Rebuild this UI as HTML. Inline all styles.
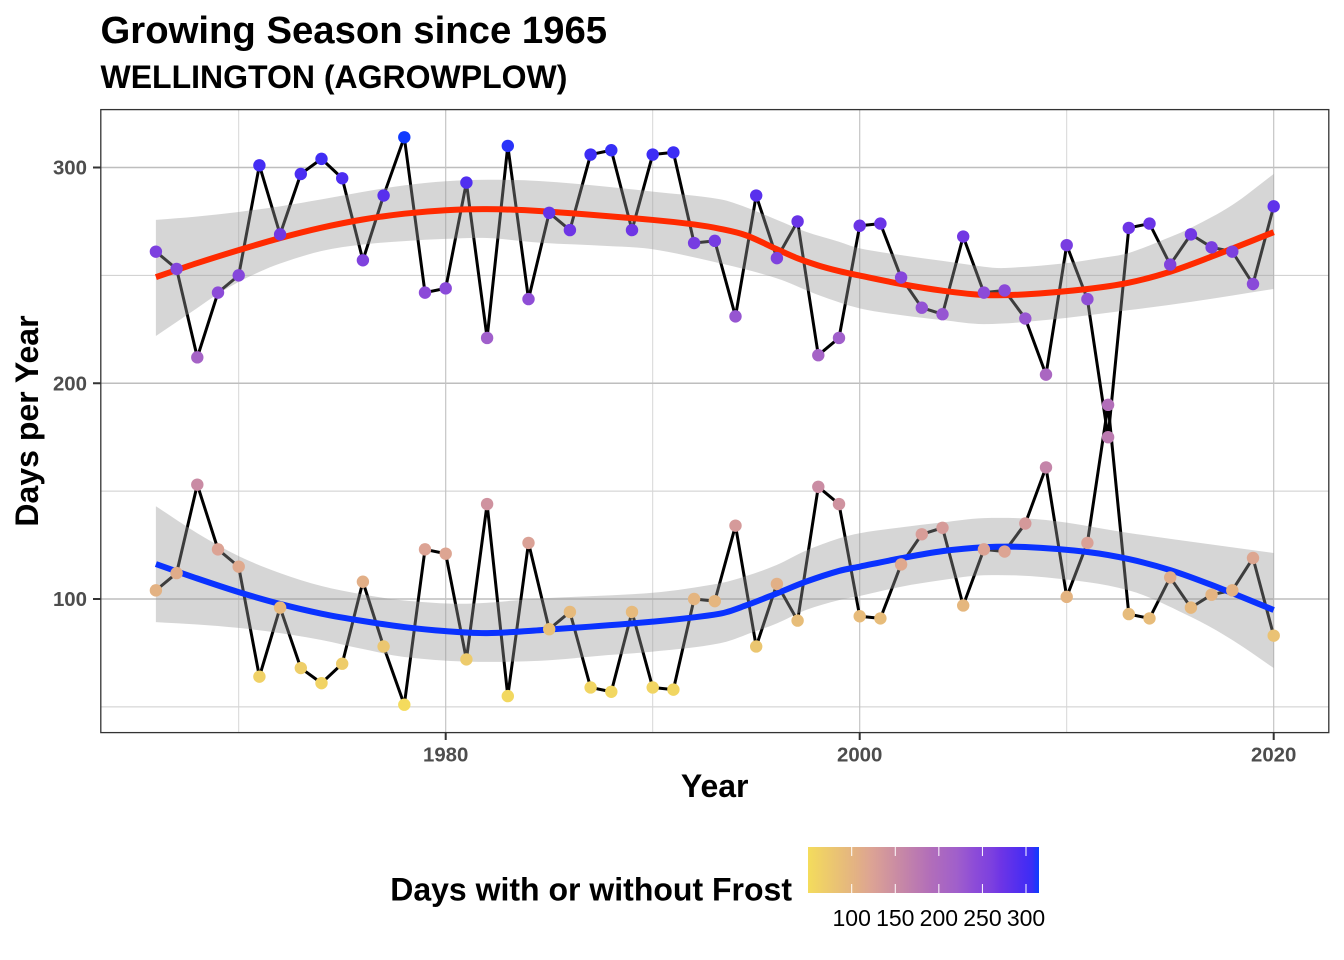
<!DOCTYPE html>
<html lang="en">
<head>
<meta charset="utf-8">
<title>Growing Season since 1965</title>
<style>
html,body{margin:0;padding:0;background:#fff;width:1344px;height:960px;overflow:hidden}
svg{display:block;font-family:"Liberation Sans",Arial,sans-serif}
</style>
</head>
<body>
<svg id="chart" width="1344" height="960" viewBox="0 0 1344 960" xmlns="http://www.w3.org/2000/svg">
  <rect x="0" y="0" width="1344" height="960" fill="#fff"/>
  <text x="100.5" y="43" font-size="38.3" font-weight="700" fill="#000">Growing Season since 1965</text>
  <text x="100.5" y="88" font-size="32" font-weight="700" fill="#000">WELLINGTON (AGROWPLOW)</text>
  <g id="grid"></g>
  <g id="marks"></g>
  <rect x="100.8" y="109.6" width="1228" height="623" fill="none" stroke="#333" stroke-width="1.3"/>
  <g id="axes"></g>
  <text x="714.7" y="797" font-size="32" font-weight="700" text-anchor="middle" fill="#000">Year</text>
  <text transform="translate(38 421) rotate(-90)" font-size="32" font-weight="700" text-anchor="middle" fill="#000">Days per Year</text>
  <text x="792" y="900.7" font-size="32" font-weight="700" text-anchor="end" fill="#000">Days with or without Frost</text>
  <defs><linearGradient id="legendGradient" x1="0" y1="0" x2="1" y2="0"></linearGradient></defs>
  <rect x="808" y="847" width="231" height="46" fill="url(#legendGradient)"/>
  <g id="legend"></g>
</svg>
<script>
// ---- Data ----
const years = [1966,1967,1968,1969,1970,1971,1972,1973,1974,1975,1976,1977,1978,1979,1980,1981,1982,1983,1984,1985,1986,1987,1988,1989,1990,1991,1992,1993,1994,1995,1996,1997,1998,1999,2000,2001,2002,2003,2004,2005,2006,2007,2008,2009,2010,2011,2012,2013,2014,2015,2016,2017,2018,2019,2020];
const daysWithoutFrost = [261,253,212,242,250,301,269,297,304,295,257,287,314,242,244,293,221,310,239,279,271,306,308,271,306,307,265,266,231,287,258,275,213,221,273,274,249,235,232,268,242,243,230,204,264,239,175,272,274,255,269,263,261,246,282];
const daysWithFrost = [104,112,153,123,115,64,96,68,61,70,108,78,51,123,121,72,144,55,126,86,94,59,57,94,59,58,100,99,134,78,107,90,152,144,92,91,116,130,133,97,123,122,135,161,101,126,190,93,91,110,96,102,104,119,83];

const redTrendYears = [1966,1968,1970,1972,1974,1976,1978,1980,1982,1984.6,1990,1992,1993.25,1994.5,1996,1997,1998,1999,2000,2002,2004,2006,2008,2011,2013,2015,2017,2020];
const redTrendValues = [249.2,255.7,261.7,267.3,272.1,275.9,278.6,280.2,280.7,279.8,275.7,273.6,271.6,268.6,262.1,257.9,254.6,252,249.9,246,242.9,240.9,241.2,243.7,246.6,251.7,258.7,270];
const redUpperYears = [1966,1968,1970,1972,1974,1976,1978,1980,1982,1984.6,1987.8,1990,1993.25,1994.5,1996,1997.4,1999,2000,2002,2004,2006,2007,2010,2011.5,2013,2015,2016,2018,2020];
const redUpperValues = [275.7,277.3,279.4,282,285.2,288.7,291.7,293.6,294.3,293.7,291.1,288.8,285.3,281.6,275.7,270.2,265.6,262.5,259.4,256.7,254,253.4,255.7,257.8,260.4,267.8,272,282.6,297];
const redLowerYears = [1966,1967,1968,1969,1970,1971,1972,1974,1976,1978,1980,1982,1984.6,1987.8,1990,1993.25,1996,1998,2000,2002,2004,2006,2009,2013,2016,2020];
const redLowerValues = [221.9,228.4,234.9,241.4,247,251.6,255.5,261.3,264.3,265.9,266.9,267.3,265.1,263.6,262.1,255.6,248.6,240.9,234.7,231.6,229.3,227.4,229.3,233.9,237.7,243.7];

const blueTrendYears = [1966,1968,1970,1972,1974,1976,1978,1980,1982,1984.6,1990,1993.25,1994.5,1996,1997.4,1999,2000,2002,2004,2006,2008,2011,2013,2015,2017,2020];
const blueTrendValues = [116.2,109.5,103.2,97.7,93.2,89.8,87,85.1,84.2,85.6,89.5,93.2,97,102.6,108,113,115,118.9,122.2,124,124.1,121.8,118.5,113.4,106.5,94.9];
const blueUpperYears = [1966,1968,1970,1972,1974,1976,1978,1981,1984.6,1990,1993.25,1994.5,1996,1997.4,1999,2000,2002,2004,2006,2009,2013,2020];
const blueUpperValues = [143,130.5,119.9,112,106,102.1,99.3,97.8,100.3,102.9,107.3,110.6,115.8,122.4,128.1,130.5,133.2,135.5,137.5,136.6,130.6,121.3];
const blueLowerYears = [1966,1968,1970,1972,1974,1976,1978,1981,1984.6,1987.8,1990,1993.25,1994.9,1996,1997.4,1999,2000,2002,2004,2006,2009,2013,2016,2018,2020];
const blueLowerValues = [89.3,88.2,86.6,84.2,81,76.8,73.1,71,71.4,74,75.6,79.5,84.8,88.7,94.9,99.5,101.4,105.7,108.8,111,110,104,91.7,81,68];

const xTickLabels = [1980,2000,2020];
const xMinorTicks = [1970,1990,2010];
const yTickLabels = [100,200,300];
const yMinorTicks = [50,150,250];
const legendTickLabels = [100,150,200,250,300];
const colorStopValues = [50,104,123,153,190,221,242,261,271,297,307,315];
const colorStopColors = ['#F4DC5C','#E3B283','#DCA394','#C98BA4','#B26EB9','#A05FCB','#8C4BD8','#7C40DF','#6E35E5','#4A2DF2','#3C2DF5','#0A3CFF'];

// ---- Scales ----
const NS = 'http://www.w3.org/2000/svg';
function xScale(year){ return 445.7 + (year - 1980) * 20.7; }
function yScale(value){ return 599 + (100 - value) * 2.1575; }
function legendScale(value){ return 851.7 + (value - 100) * 0.8715; }
function hexToRgb(h){ return [1,3,5].map(function(i){ return parseInt(h.substr(i,2),16); }); }
function colorFor(value){
  let i = 0;
  while(i < colorStopValues.length - 2 && value > colorStopValues[i+1]) i++;
  const t = Math.max(0, Math.min(1, (value - colorStopValues[i]) / (colorStopValues[i+1] - colorStopValues[i])));
  const a = hexToRgb(colorStopColors[i]), b = hexToRgb(colorStopColors[i+1]);
  return 'rgb(' + a.map(function(c,k){ return Math.round(c + (b[k]-c)*t); }).join(',') + ')';
}
function make(tag, attrs, parent){
  const el = document.createElementNS(NS, tag);
  Object.keys(attrs).forEach(function(k){ el.setAttribute(k, attrs[k]); });
  parent.appendChild(el);
  return el;
}
// Smooth Hermite path through read points
function curve(xs, vs, reverse, start){
  let pts = xs.map(function(x,i){ return [xScale(x), yScale(vs[i])]; });
  if(reverse) pts = pts.slice().reverse();
  const n = pts.length;
  const m = pts.map(function(p,i){
    const a = pts[Math.max(0,i-1)], b = pts[Math.min(n-1,i+1)];
    return (b[1]-a[1])/(b[0]-a[0]);
  });
  let d = (start ? 'M' : 'L') + pts[0][0].toFixed(2) + ' ' + pts[0][1].toFixed(2);
  for(let i=0;i<n-1;i++){
    const h = (pts[i+1][0]-pts[i][0])/3;
    d += ' C' + (pts[i][0]+h).toFixed(2) + ' ' + (pts[i][1]+m[i]*h).toFixed(2) + ' ' +
         (pts[i+1][0]-h).toFixed(2) + ' ' + (pts[i+1][1]-m[i+1]*h).toFixed(2) + ' ' +
         pts[i+1][0].toFixed(2) + ' ' + pts[i+1][1].toFixed(2);
  }
  return d;
}

// ---- Grid ----
const grid = document.getElementById('grid');
yMinorTicks.forEach(function(v){
  const l = make('line',{x1:101,x2:1329,y1:yScale(v),y2:yScale(v),stroke:'#cdcdcd','stroke-width':1.1},grid);
  
  
});
xMinorTicks.forEach(function(v){
  const l = make('line',{x1:xScale(v),x2:xScale(v),y1:110,y2:733,stroke:'#d6d6d6','stroke-width':1},grid);
  
  
});
yTickLabels.forEach(function(v){
  const l = make('line',{x1:101,x2:1329,y1:yScale(v),y2:yScale(v),stroke:'#bebebe','stroke-width':1.4},grid);
  
  
});
xTickLabels.forEach(function(v){
  const l = make('line',{x1:xScale(v),x2:xScale(v),y1:110,y2:733,stroke:'#c4c4c4','stroke-width':1.2},grid);
  
  
});

// ---- Marks ----
const marks = document.getElementById('marks');
function drawLine(values, name){
  const d = years.map(function(y,i){ return (i?'L':'M') + xScale(y).toFixed(2) + ' ' + yScale(values[i]).toFixed(2); }).join(' ');
  const p = make('path',{d:d,fill:'none',stroke:'#000','stroke-width':3,'stroke-linejoin':'miter'},marks);
  
  
}
function drawBand(upY, upV, loY, loV, name){
  const d = curve(upY, upV, false, true) + ' ' + curve(loY, loV, true, false) + ' Z';
  const p = make('path',{d:d,fill:'#999','fill-opacity':0.4},marks);
  
  
}
function drawTrend(ty, tv, color, name){
  const p = make('path',{d:curve(ty, tv, false, true),fill:'none',stroke:color,'stroke-width':6},marks);
  
  
}
function drawPoints(values, name){
  years.forEach(function(y,i){
    const c = make('circle',{cx:xScale(y),cy:yScale(values[i]),r:6.2,fill:colorFor(values[i])},marks);
    
    
  });
}
drawLine(daysWithoutFrost, 'frost-free-days-line');
drawLine(daysWithFrost, 'frost-days-line');
drawBand(redUpperYears, redUpperValues, redLowerYears, redLowerValues, 'frost-free-confidence-band');
drawBand(blueUpperYears, blueUpperValues, blueLowerYears, blueLowerValues, 'frost-confidence-band');
drawTrend(redTrendYears, redTrendValues, '#FF2A00', 'frost-free-trend-line');
drawTrend(blueTrendYears, blueTrendValues, '#0A32FF', 'frost-trend-line');
drawPoints(daysWithoutFrost, 'frost-free-days-point');
drawPoints(daysWithFrost, 'frost-days-point');

// ---- Axes ----
const axes = document.getElementById('axes');
xTickLabels.forEach(function(v){
  const t = make('line',{x1:xScale(v),x2:xScale(v),y1:733,y2:740,stroke:'#333','stroke-width':2},axes);
  
  
  const l = make('text',{x:xScale(v),y:761.5,'text-anchor':'middle','font-size':20.4,'font-weight':700,fill:'#4d4d4d'},axes);
  l.textContent = String(v);
  
  
});
yTickLabels.forEach(function(v){
  const t = make('line',{x1:93,x2:101,y1:yScale(v),y2:yScale(v),stroke:'#333','stroke-width':2},axes);
  
  
  const l = make('text',{x:87,y:yScale(v)+7.2,'text-anchor':'end','font-size':20.4,'font-weight':700,fill:'#4d4d4d'},axes);
  l.textContent = String(v);
  
  
});

// ---- Legend ----
const grad = document.getElementById('legendGradient');
colorStopValues.forEach(function(v,i){
  const s = make('stop',{offset:((v-50)/(315-50)).toFixed(4),'stop-color':colorStopColors[i]},grad);
  
  
});
const legend = document.getElementById('legend');
legendTickLabels.forEach(function(v){
  const x = legendScale(v);
  const a = make('line',{x1:x,x2:x,y1:847,y2:856,stroke:'#fff','stroke-width':1},legend);
  
  
  const b = make('line',{x1:x,x2:x,y1:884,y2:893,stroke:'#fff','stroke-width':1},legend);
  
  
  const l = make('text',{x:x,y:926,'text-anchor':'middle','font-size':23,fill:'#000'},legend);
  l.textContent = String(v);
  
  
});
</script>
</body>
</html>
